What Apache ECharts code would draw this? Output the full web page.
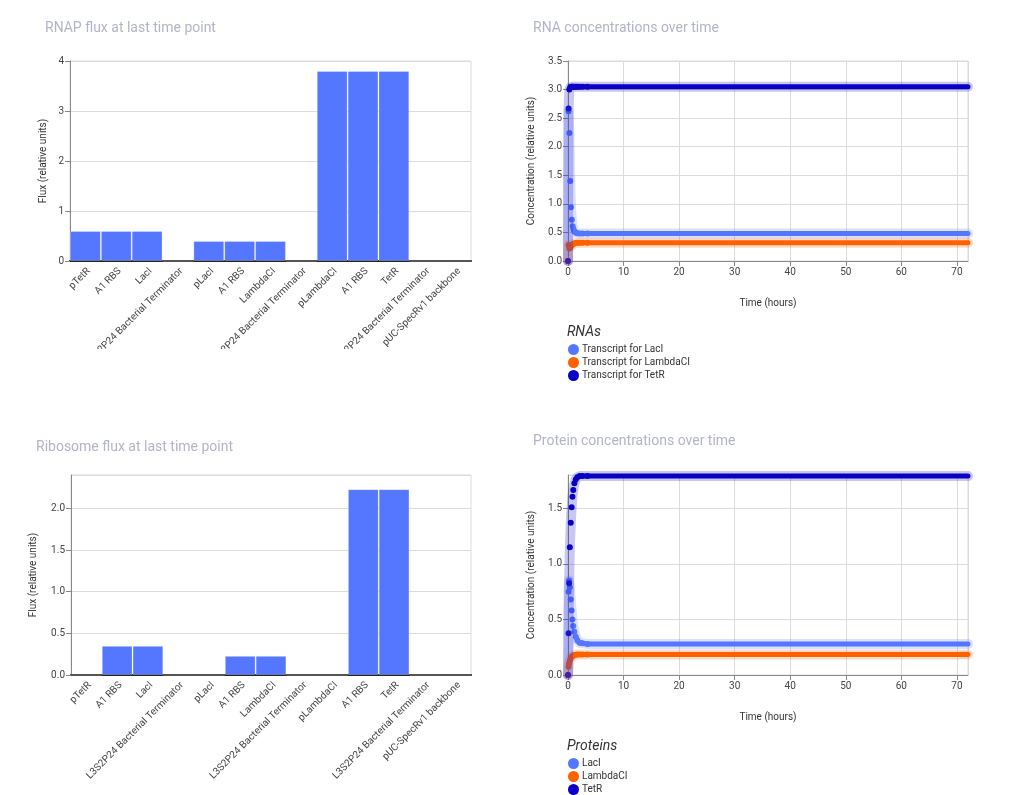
<!DOCTYPE html>
<html>
<head>
  <meta charset="UTF-8">
  <script src="https://cdn.jsdelivr.net/npm/echarts@6/dist/echarts.min.js"></script>
  <style>
    body { margin: 0; background: #fff; }
    #main { width: 1027px; height: 795px; }
  </style>
</head>
<body>
  <div id="main"></div>
  <script>
    // parts along the plasmid (x categories of both flux charts)
    var parts = ['pTetR', 'A1 RBS', 'LacI', 'L3S2P24 Bacterial Terminator',
      'pLacI', 'A1 RBS', 'LambdaCI', 'L3S2P24 Bacterial Terminator',
      'pLambdaCI', 'A1 RBS', 'TetR', 'L3S2P24 Bacterial Terminator', 'pUC-SpecRv1 backbone'];
    var rnapFlux = [0.6, 0.6, 0.6, 0, 0.4, 0.4, 0.4, 0, 3.8, 3.8, 3.8, 0, 0];
    var riboFlux = [0, 0.35, 0.35, 0, 0, 0.23, 0.23, 0, 0, 2.23, 2.23, 0, 0];

    // RNA time course (hours)
    var rnaTime = [0, 0.1, 0.25, 0.4, 0.55, 0.7, 0.85, 1.0, 1.2, 1.45, 1.7, 2.1, 2.6, 3.5, 72];
    var rnaLacI = [0, 2.62, 2.24, 1.40, 0.94, 0.72, 0.61, 0.55, 0.51, 0.495, 0.485, 0.48, 0.48, 0.48, 0.48];
    var rnaLambdaCI = [0, 0.28, 0.22, 0.23, 0.26, 0.28, 0.29, 0.30, 0.31, 0.315, 0.32, 0.32, 0.32, 0.32, 0.32];
    var rnaTetR = [0, 2.67, 3.00, 3.04, 3.05, 3.05, 3.05, 3.05, 3.05, 3.05, 3.05, 3.05, 3.05, 3.05, 3.05];

    // protein time course (hours)
    var protTime = [0, 0.1, 0.2, 0.33, 0.5, 0.65, 0.8, 0.95, 1.15, 1.4, 1.7, 2.1, 2.6, 3.5, 72];
    var protLacI = [0, 0.75, 0.85, 0.79, 0.68, 0.58, 0.50, 0.44, 0.39, 0.345, 0.31, 0.29, 0.285, 0.28, 0.28];
    var protLambdaCI = [0, 0.075, 0.105, 0.13, 0.15, 0.16, 0.17, 0.175, 0.18, 0.183, 0.185, 0.185, 0.185, 0.185, 0.185];
    var protTetR = [0, 0.375, 0.825, 1.15, 1.37, 1.51, 1.605, 1.665, 1.725, 1.76, 1.78, 1.79, 1.79, 1.79, 1.79];

    var rnaNames = ['Transcript for LacI', 'Transcript for LambdaCI', 'Transcript for TetR'];
    var protNames = ['LacI', 'LambdaCI', 'TetR'];
    var colors = ['#5577ff', '#ff6000', '#0a00c4'];

    var font = 'Roboto, sans-serif';
    var titleStyle = { fontSize: 14, fontWeight: 'normal', color: '#b2b4c8', fontFamily: font };
    var labelStyle = { fontSize: 10, color: '#444', fontFamily: font };

    function pairs(t, v) {
      return t.map(function (x, i) { return [x, v[i]]; });
    }

    // each time course = faint wide band + dots + dense solid run
    function course(name, color, t, v, ax, denseFrom) {
      var d = pairs(t, v);
      return [
        { name: name + ' band', type: 'line', xAxisIndex: ax, yAxisIndex: ax, data: d,
          showSymbol: false, clip: false, silent: true,
          lineStyle: { color: color, width: 10, opacity: 0.22, cap: 'round', join: 'round' } },
        { name: name + ' run', type: 'line', xAxisIndex: ax, yAxisIndex: ax, data: d.slice(denseFrom),
          showSymbol: false, smooth: 0.3,
          lineStyle: { color: color, width: 5, cap: 'round', join: 'round' } },
        { name: name, type: 'scatter', xAxisIndex: ax, yAxisIndex: ax, data: d.slice(0, -1),
          symbolSize: 6, clip: false, itemStyle: { color: color, opacity: 1 } }
      ];
    }

    function barX(ax) {
      return {
        type: 'category', gridIndex: ax, data: parts,
        axisLine: { lineStyle: { color: '#222', width: 2 } },
        axisTick: { alignWithLabel: true, length: 5, lineStyle: { color: '#888', width: 1 } },
        axisLabel: Object.assign({}, labelStyle,
          { rotate: 45, interval: 0, margin: 5, verticalAlign: 'top' })
      };
    }

    function valY(ax, max, interval, gap, name, fixed) {
      return {
        type: 'value', gridIndex: ax, min: 0, max: max, interval: interval,
        name: name, nameLocation: 'middle', nameGap: gap,
        nameTextStyle: { fontSize: 10, color: '#333', fontFamily: font },
        axisLine: { show: true, lineStyle: { color: '#888' } },
        axisTick: { show: true, length: 5, lineStyle: { color: '#888' } },
        axisLabel: Object.assign({ showMaxLabel: max % interval === 0, margin: 6,
          formatter: function (v) { return fixed ? v.toFixed(1) : String(v); } }, labelStyle),
        splitLine: { lineStyle: { color: '#dcdcdc' } }
      };
    }

    function timeX(ax) {
      return {
        type: 'value', gridIndex: ax, min: 0, max: 72, interval: 10,
        name: 'Time (hours)', nameLocation: 'middle', nameGap: 37,
        nameTextStyle: { fontSize: 10, color: '#333', fontFamily: font },
        axisLine: { lineStyle: { color: '#888' } },
        axisTick: { length: 5, lineStyle: { color: '#888' } },
        axisLabel: Object.assign({ showMaxLabel: false, margin: 6 }, labelStyle),
        splitLine: { show: true, lineStyle: { color: '#dcdcdc' } }
      };
    }

    var barStyle = { color: '#5577ff', borderColor: 'rgba(255,255,255,0.25)', borderWidth: 1 };
    var series = [
      { type: 'bar', xAxisIndex: 0, yAxisIndex: 0, data: rnapFlux, barCategoryGap: '0%', itemStyle: barStyle },
      { type: 'bar', xAxisIndex: 1, yAxisIndex: 1, data: riboFlux, barCategoryGap: '0%', itemStyle: barStyle }
    ];
    var rnaVals = [rnaLacI, rnaLambdaCI, rnaTetR];
    var protVals = [protLacI, protLambdaCI, protTetR];
    for (var i = 0; i < 3; i++) {
      series = series.concat(course(rnaNames[i], colors[i], rnaTime, rnaVals[i], 2, 7));
      series = series.concat(course(protNames[i], colors[i], protTime, protVals[i], 3, 9));
    }

    var legendText = { fontSize: 10, color: '#333', fontFamily: font, padding: [0, 0, 0, -2] };
    var subTitle = { fontSize: 14, fontStyle: 'italic', fontWeight: 'normal', color: '#333', fontFamily: font };

    var chart = echarts.init(document.getElementById('main'));
    chart.setOption({
      animation: false,
      color: colors,
      title: [
        { text: 'RNAP flux at last time point', left: 40, top: 16, textStyle: titleStyle },
        { text: 'RNA concentrations over time', left: 528, top: 16, textStyle: titleStyle },
        { text: 'Ribosome flux at last time point', left: 31, top: 435, textStyle: titleStyle },
        { text: 'Protein concentrations over time', left: 528, top: 429, textStyle: titleStyle },
        { text: 'RNAs', left: 562, top: 320, textStyle: subTitle },
        { text: 'Proteins', left: 562, top: 734, textStyle: subTitle }
      ],
      legend: [
        { data: rnaNames, orient: 'vertical', left: 568, top: 344, padding: 0, icon: 'circle',
          itemWidth: 11, itemHeight: 11, itemGap: 2, textStyle: legendText },
        { data: protNames, orient: 'vertical', left: 568, top: 758, padding: 0, icon: 'circle',
          itemWidth: 11, itemHeight: 11, itemGap: 2, textStyle: legendText }
      ],
      // the upper flux chart's long part names are cut off below its panel
      graphic: [
        { type: 'rect', left: 0, top: 349, z: 100, shape: { width: 500, height: 60 },
          style: { fill: '#fff' }, silent: true }
      ],
      grid: [
        { left: 70, top: 61, width: 401, height: 200, show: true, borderColor: '#dcdcdc', borderWidth: 1 },
        { left: 71, top: 475, width: 400, height: 200, show: true, borderColor: '#dcdcdc', borderWidth: 1 },
        { left: 568, top: 61, width: 400, height: 200, show: true, borderColor: '#dcdcdc', borderWidth: 1 },
        { left: 568, top: 475, width: 400, height: 200, show: true, borderColor: '#dcdcdc', borderWidth: 1 }
      ],
      xAxis: [barX(0), barX(1), timeX(2), timeX(3)],
      yAxis: [
        valY(0, 4, 1, 22, 'Flux (relative units)', false),
        valY(1, 2.4, 0.5, 33, 'Flux (relative units)', true),
        valY(2, 3.5, 0.5, 32, 'Concentration (relative units)', true),
        valY(3, 1.8, 0.5, 32, 'Concentration (relative units)', true)
      ],
      series: series
    });
  </script>
</body>
</html>
